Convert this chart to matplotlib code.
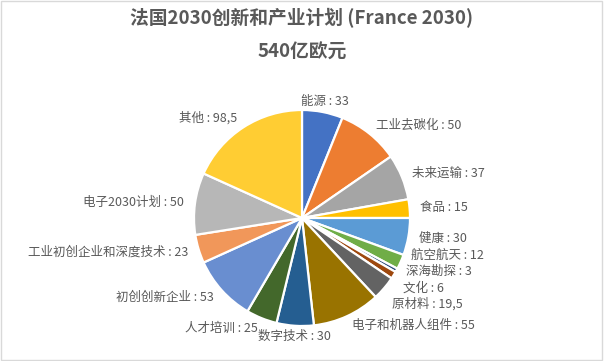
import numpy as np
import matplotlib.pyplot as plt
from matplotlib.patches import Rectangle

plt.rcParams['font.family'] = ['Noto Sans CJK SC', 'DejaVu Sans']

# 数据
categories = ['能源', '工业去碳化', '未来运输', '食品', '健康', '航空航天', '深海勘探', '文化',
              '原材料', '电子和机器人组件', '数字技术', '人才培训', '初创创新企业',
              '工业初创企业和深度技术', '电子2030计划', '其他']
values = [33, 50, 37, 15, 30, 12, 3, 6, 19.5, 55, 30, 25, 53, 23, 50, 98.5]
colors = ['#4472C4', '#ED7D31', '#A5A5A5', '#FFC000', '#5B9BD5', '#70AD47', '#264478', '#9E480E',
          '#636363', '#997300', '#255E91', '#43682B', '#698ED0', '#F1975A', '#B7B7B7', '#FFCD33']
title = '法国2030创新和产业计划 (France 2030)\n540亿欧元'

W, H = 604, 361
cx, cy, R = 302, 218, 108  # 饼图中心和半径 (像素)

fig = plt.figure(figsize=(W / 100, H / 100), dpi=100)
ax = fig.add_axes([0, 0, 1, 1])

wedges, _ = ax.pie(values, colors=colors, startangle=90, counterclock=False, radius=1,
                   wedgeprops=dict(edgecolor='white', linewidth=1.6))
ax.set_aspect('auto')
ax.set_xlim(-cx / R, (W - cx) / R)
ax.set_ylim(-(H - cy) / R, cy / R)
ax.axis('off')

# 标签位置
def fmt(v):
    return (f'{v:g}').replace('.', ',')

pos = []
for w, name, v in zip(wedges, categories, values):
    ang = np.deg2rad((w.theta1 + w.theta2) / 2)
    x, y = 1.1 * np.cos(ang), 1.1 * np.sin(ang)
    pos.append([x, y, name, v])

# 右侧标签防重叠
gap = 16.5 / R
right = sorted([p for p in pos if p[0] > 0.3], key=lambda p: -p[1])
for _ in range(200):
    for a, b in zip(right[:-1], right[1:]):
        d = a[1] - b[1]
        if d < gap:
            a[1] += (gap - d) / 2
            b[1] -= (gap - d) / 2

for x, y, name, v in pos:
    if abs(x) < 0.25:
        ha = 'center'
    elif x > 0:
        ha = 'left'
    else:
        ha = 'right'
    ax.text(x, y, f'{name} : {fmt(v)}', ha=ha, va='center', fontsize=9, color='#595959')

fig.text(0.5, 1 - 35 / H, title, ha='center', va='center', fontsize=13.5, fontweight='bold',
         color='#595959', linespacing=1.95)

fig.patches.append(Rectangle((0.002, 0.004), 0.995, 0.993, transform=fig.transFigure,
                             fill=False, edgecolor='#D9D9D9', linewidth=1))

fig.savefig('out.png', dpi=100)
